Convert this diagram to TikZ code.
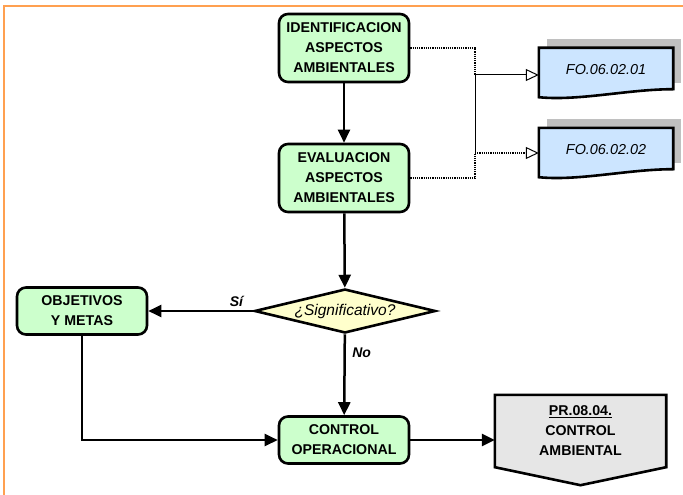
\documentclass[tikz,border=0pt]{standalone}
\usepackage{fontspec}
\setmainfont{Liberation Sans}
\usetikzlibrary{arrows.meta,shapes.geometric,backgrounds}

\definecolor{verdecaja}{RGB}{204,255,204}
\definecolor{amarillo}{RGB}{255,255,204}
\definecolor{azulform}{RGB}{204,229,255}
\definecolor{grisproc}{RGB}{230,230,230}
\definecolor{sombra}{RGB}{192,192,192}
\definecolor{marco}{RGB}{255,160,80}

\begin{document}
\begin{tikzpicture}[x=1pt,y=-1pt,
        caja/.style={draw, line width=2.6pt, rounded corners=9pt, fill=verdecaja, minimum width=130pt,
                align=center, inner sep=0pt, font=\fontsize{14.2}{20}\selectfont\bfseries},
        flecha/.style={line width=2.5pt, -{Triangle[length=13pt,width=12pt]}},
        punteado/.style={line width=2pt, dash pattern=on 1.2pt off 1pt},
        abierta/.style={-{Triangle[open,length=13pt,width=12pt,line width=1pt]}},
        formato/.style={minimum width=134pt, minimum height=44pt, inner sep=0pt,
                font=\fontsize{14.4}{16}\selectfont\itshape},
        etiqueta/.style={font=\fontsize{14}{16}\selectfont\bfseries\itshape}]
        \useasboundingbox (0,0) rectangle (683,495);
        \draw[marco, line width=2pt] (4,495) -- (4,6) -- (683,6);

        \node[caja, minimum height=68pt] (ident) at (344,48) {IDENTIFICACION\\ASPECTOS\\AMBIENTALES};
        \node[caja, minimum height=68pt] (evalu) at (344,178) {EVALUACION\\ASPECTOS\\AMBIENTALES};
        \node[diamond, draw, line width=2.6pt, fill=amarillo, aspect=4, minimum width=181pt, minimum height=44pt,
                inner sep=0pt, font=\fontsize{15.5}{18}\selectfont\itshape] (signif) at (345,311) {¿Significativo?};
        \node[caja, minimum height=47pt] (objet) at (82,311) {OBJETIVOS\\Y METAS};
        \node[caja, minimum height=47pt] (contr) at (344,440) {CONTROL\\OPERACIONAL};
        \node[minimum width=171pt, minimum height=72pt, inner sep=0pt, align=center,
                font=\fontsize{14.2}{20}\selectfont\bfseries] (proced) at (580.5,431) {\underline{PR.08.04.}\\CONTROL\\AMBIENTAL};
        \node[formato] (docA) at (606,70) {FO.06.02.01};
        \node[formato] (docB) at (606,150) {FO.06.02.02};

        \begin{scope}[on background layer]
        \draw[line width=2.6pt, fill=grisproc] (proced.north west) -- (proced.north east) -- (proced.south east)
                -- ([yshift=-18pt]proced.south) -- (proced.south west) -- cycle;
        \foreach \d in {docA,docB} {
                \fill[sombra] ([xshift=8pt,yshift=9pt]\d.north west) rectangle ([xshift=8pt,yshift=9pt]\d.south east);
                \draw[line width=2.6pt, fill=azulform] (\d.north west) -- (\d.north east) -- ([yshift=3pt]\d.south east)
                        .. controls ([xshift=-45pt,yshift=3pt]\d.south east) and ([xshift=40pt,yshift=-9pt]\d.south west)
                        .. ([yshift=-5pt]\d.south west) -- cycle;
        }
        \end{scope}

        \coordinate (ramaA) at (475,75);
        \coordinate (ramaB) at (475,153);

        \draw[flecha] (ident) -- (evalu);
        \draw[flecha] (evalu) -- (signif);
        \draw[flecha] (signif) -- node[etiqueta, above, pos=0.16] {Sí} (objet);
        \draw[flecha] (signif) -- node[etiqueta, right=3pt, pos=0.23] {No} (contr);
        \draw[flecha] (objet) |- (contr);
        \draw[flecha] (contr.east) -- (contr.east -| proced.west);

        \draw[punteado] (ident.east) -| (ramaA);
        \draw[punteado] (evalu.east) -| (ramaB);
        \draw[line width=1pt] (ramaA) -- (ramaB);
        \draw[line width=1pt, abierta] (ramaA) -- (ramaA -| docA.west);
        \draw[punteado, abierta] (ramaB) -- (ramaB -| docB.west);
\end{tikzpicture}
\end{document}
